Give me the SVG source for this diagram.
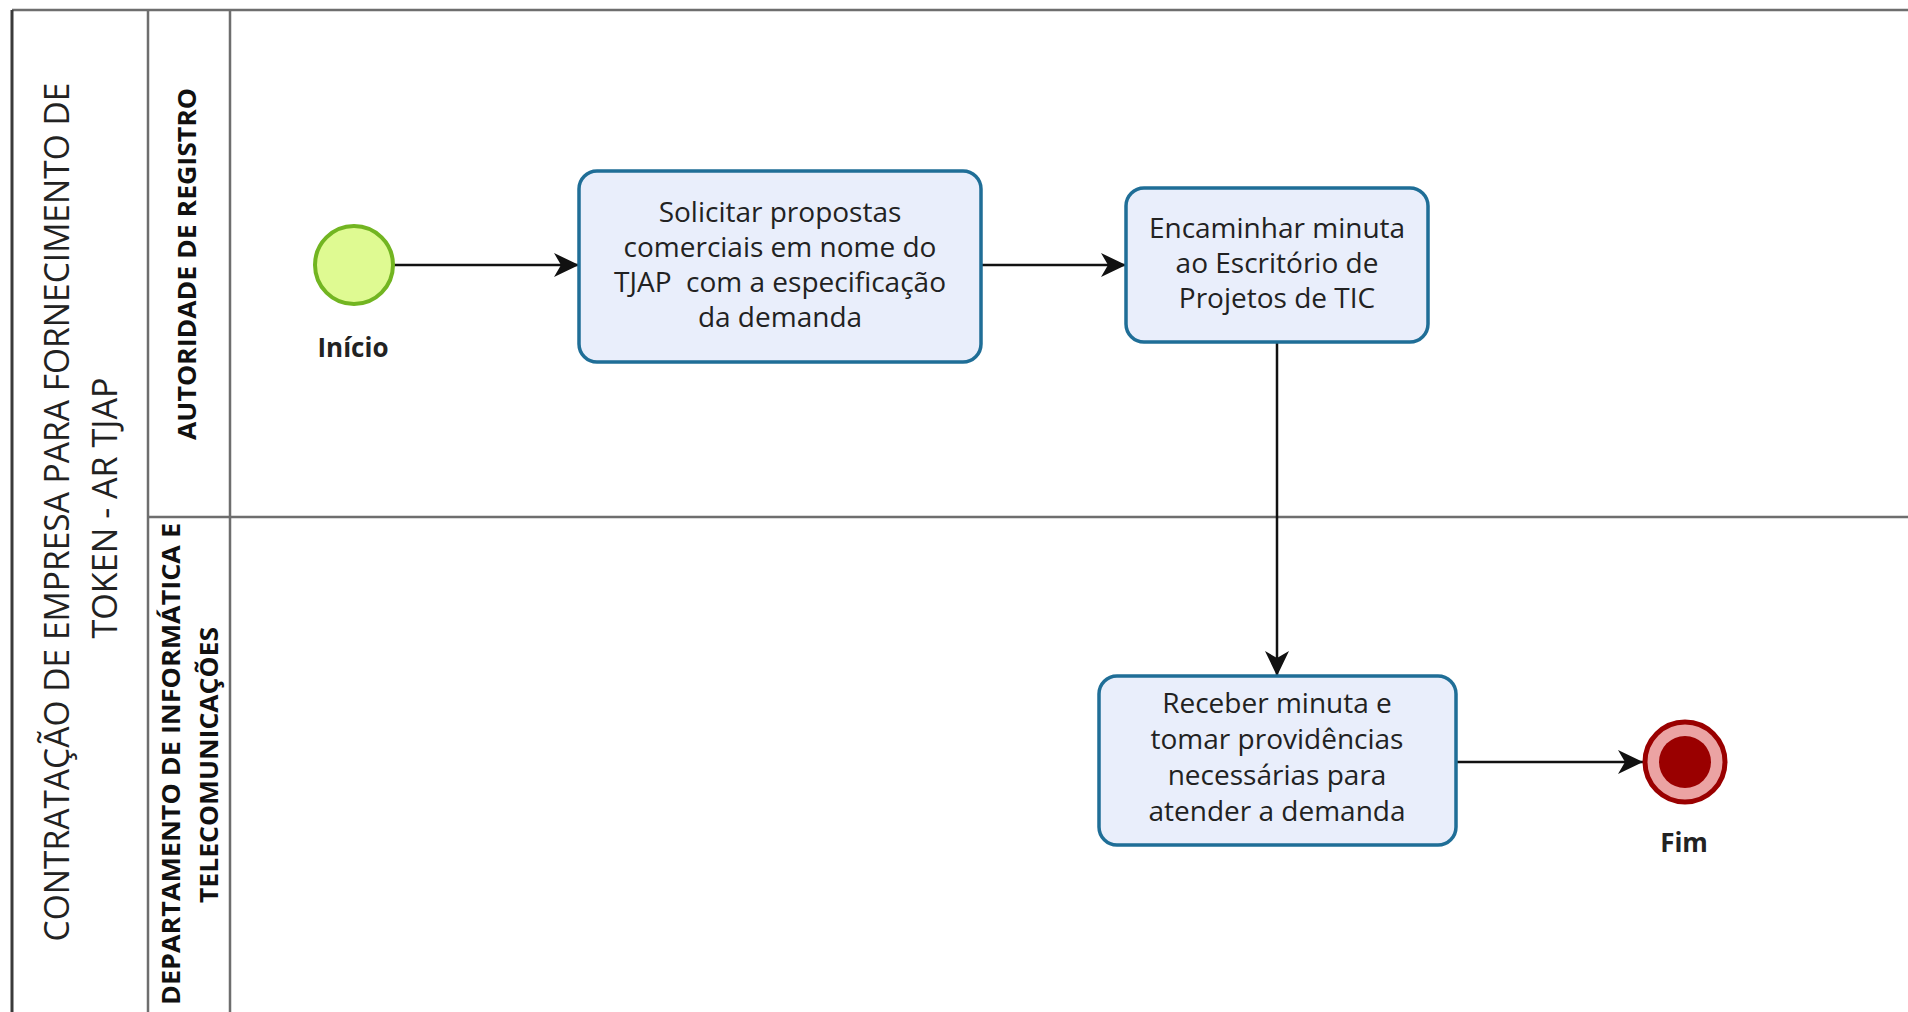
<svg xmlns="http://www.w3.org/2000/svg" width="1908" height="1012" viewBox="0 0 1908 1012">
<style>
.frame{fill:none;stroke:#6e6e6e;stroke-width:2.5}
.outer{fill:none;stroke:#3a3a3a;stroke-width:3}
.task{fill:#e9eefb;stroke:#1f6e97;stroke-width:3.5}
.t{font-family:"Open Sans","Noto Sans","Liberation Sans",sans-serif;font-size:28px;fill:#222;text-anchor:middle}
.lbl{font-family:"Open Sans","Noto Sans","Liberation Sans",sans-serif;font-size:26px;font-weight:700;fill:#222;text-anchor:middle}
.title{font-family:"Open Sans","Noto Sans","Liberation Sans",sans-serif;font-size:34px;fill:#222;text-anchor:middle}
.lane{font-family:"Open Sans","Noto Sans","Liberation Sans",sans-serif;font-size:25px;font-weight:700;fill:#111;text-anchor:middle}
.conn{fill:none;stroke:#111;stroke-width:2.5}
</style>
<defs>
<marker id="arr" markerUnits="userSpaceOnUse" markerWidth="26" markerHeight="26" viewBox="0 0 26 26" refX="25" refY="13" orient="auto">
<path d="M25,13 L0,1 L7,13 L0,25 Z" fill="#111"/>
</marker>
</defs>
<rect width="1908" height="1012" fill="#ffffff"/>
<g id="pool">
<line class="frame" x1="12" y1="10" x2="1908" y2="10"/>
<line class="outer" x1="12" y1="10" x2="12" y2="1012"/>
<line class="frame" x1="148" y1="10" x2="148" y2="1012"/>
<line class="frame" x1="230" y1="10" x2="230" y2="1012"/>
<line class="frame" x1="148" y1="517" x2="1908" y2="517"/>
<text class="title" transform="translate(69,512) rotate(-90)" textLength="859" lengthAdjust="spacingAndGlyphs">CONTRATAÇÃO DE EMPRESA PARA FORNECIMENTO DE</text>
<text class="title" transform="translate(117,508) rotate(-90)" textLength="261" lengthAdjust="spacingAndGlyphs">TOKEN - AR TJAP</text>
</g>
<g id="lane-autoridade">
<text class="lane" transform="translate(196,264) rotate(-90)" textLength="352" lengthAdjust="spacingAndGlyphs">AUTORIDADE DE REGISTRO</text>
</g>
<g id="lane-departamento">
<text class="lane" transform="translate(180,764) rotate(-90)" textLength="482" lengthAdjust="spacingAndGlyphs">DEPARTAMENTO DE INFORMÁTICA E</text>
<text class="lane" transform="translate(218,765) rotate(-90)" textLength="276" lengthAdjust="spacingAndGlyphs">TELECOMUNICAÇÕES</text>
</g>
<g id="connectors">
<line class="conn" x1="394" y1="265" x2="579" y2="265" marker-end="url(#arr)"/>
<line class="conn" x1="981" y1="265" x2="1126" y2="265" marker-end="url(#arr)"/>
<line class="conn" x1="1277" y1="342" x2="1277" y2="676" marker-end="url(#arr)"/>
<line class="conn" x1="1456" y1="762" x2="1643" y2="762" marker-end="url(#arr)"/>
</g>
<g id="inicio">
<circle cx="354" cy="265" r="39" fill="#dffa92" stroke="#72b521" stroke-width="4"/>
<text class="lbl" x="353" y="357">Início</text>
</g>
<g id="task-solicitar">
<rect class="task" x="579" y="171" width="402" height="191" rx="18"/>
<text class="t" x="780" y="222">Solicitar propostas</text>
<text class="t" x="780" y="257">comerciais em nome do</text>
<text class="t" x="780" y="292" xml:space="preserve">TJAP  com a especificação</text>
<text class="t" x="780" y="327">da demanda</text>
</g>
<g id="task-encaminhar">
<rect class="task" x="1126" y="188" width="302" height="154" rx="18"/>
<text class="t" x="1277" y="238">Encaminhar minuta</text>
<text class="t" x="1277" y="273">ao Escritório de</text>
<text class="t" x="1277" y="308">Projetos de TIC</text>
</g>
<g id="task-receber">
<rect class="task" x="1099" y="676" width="357" height="169" rx="18"/>
<text class="t" x="1277" y="713">Receber minuta e</text>
<text class="t" x="1277" y="749">tomar providências</text>
<text class="t" x="1277" y="785">necessárias para</text>
<text class="t" x="1277" y="821">atender a demanda</text>
</g>
<g id="fim">
<circle cx="1685" cy="762" r="40" fill="#eba3a3" stroke="#9a0000" stroke-width="5"/>
<circle cx="1685" cy="762" r="26" fill="#9a0000"/>
<text class="lbl" x="1684" y="852">Fim</text>
</g>
</svg>
